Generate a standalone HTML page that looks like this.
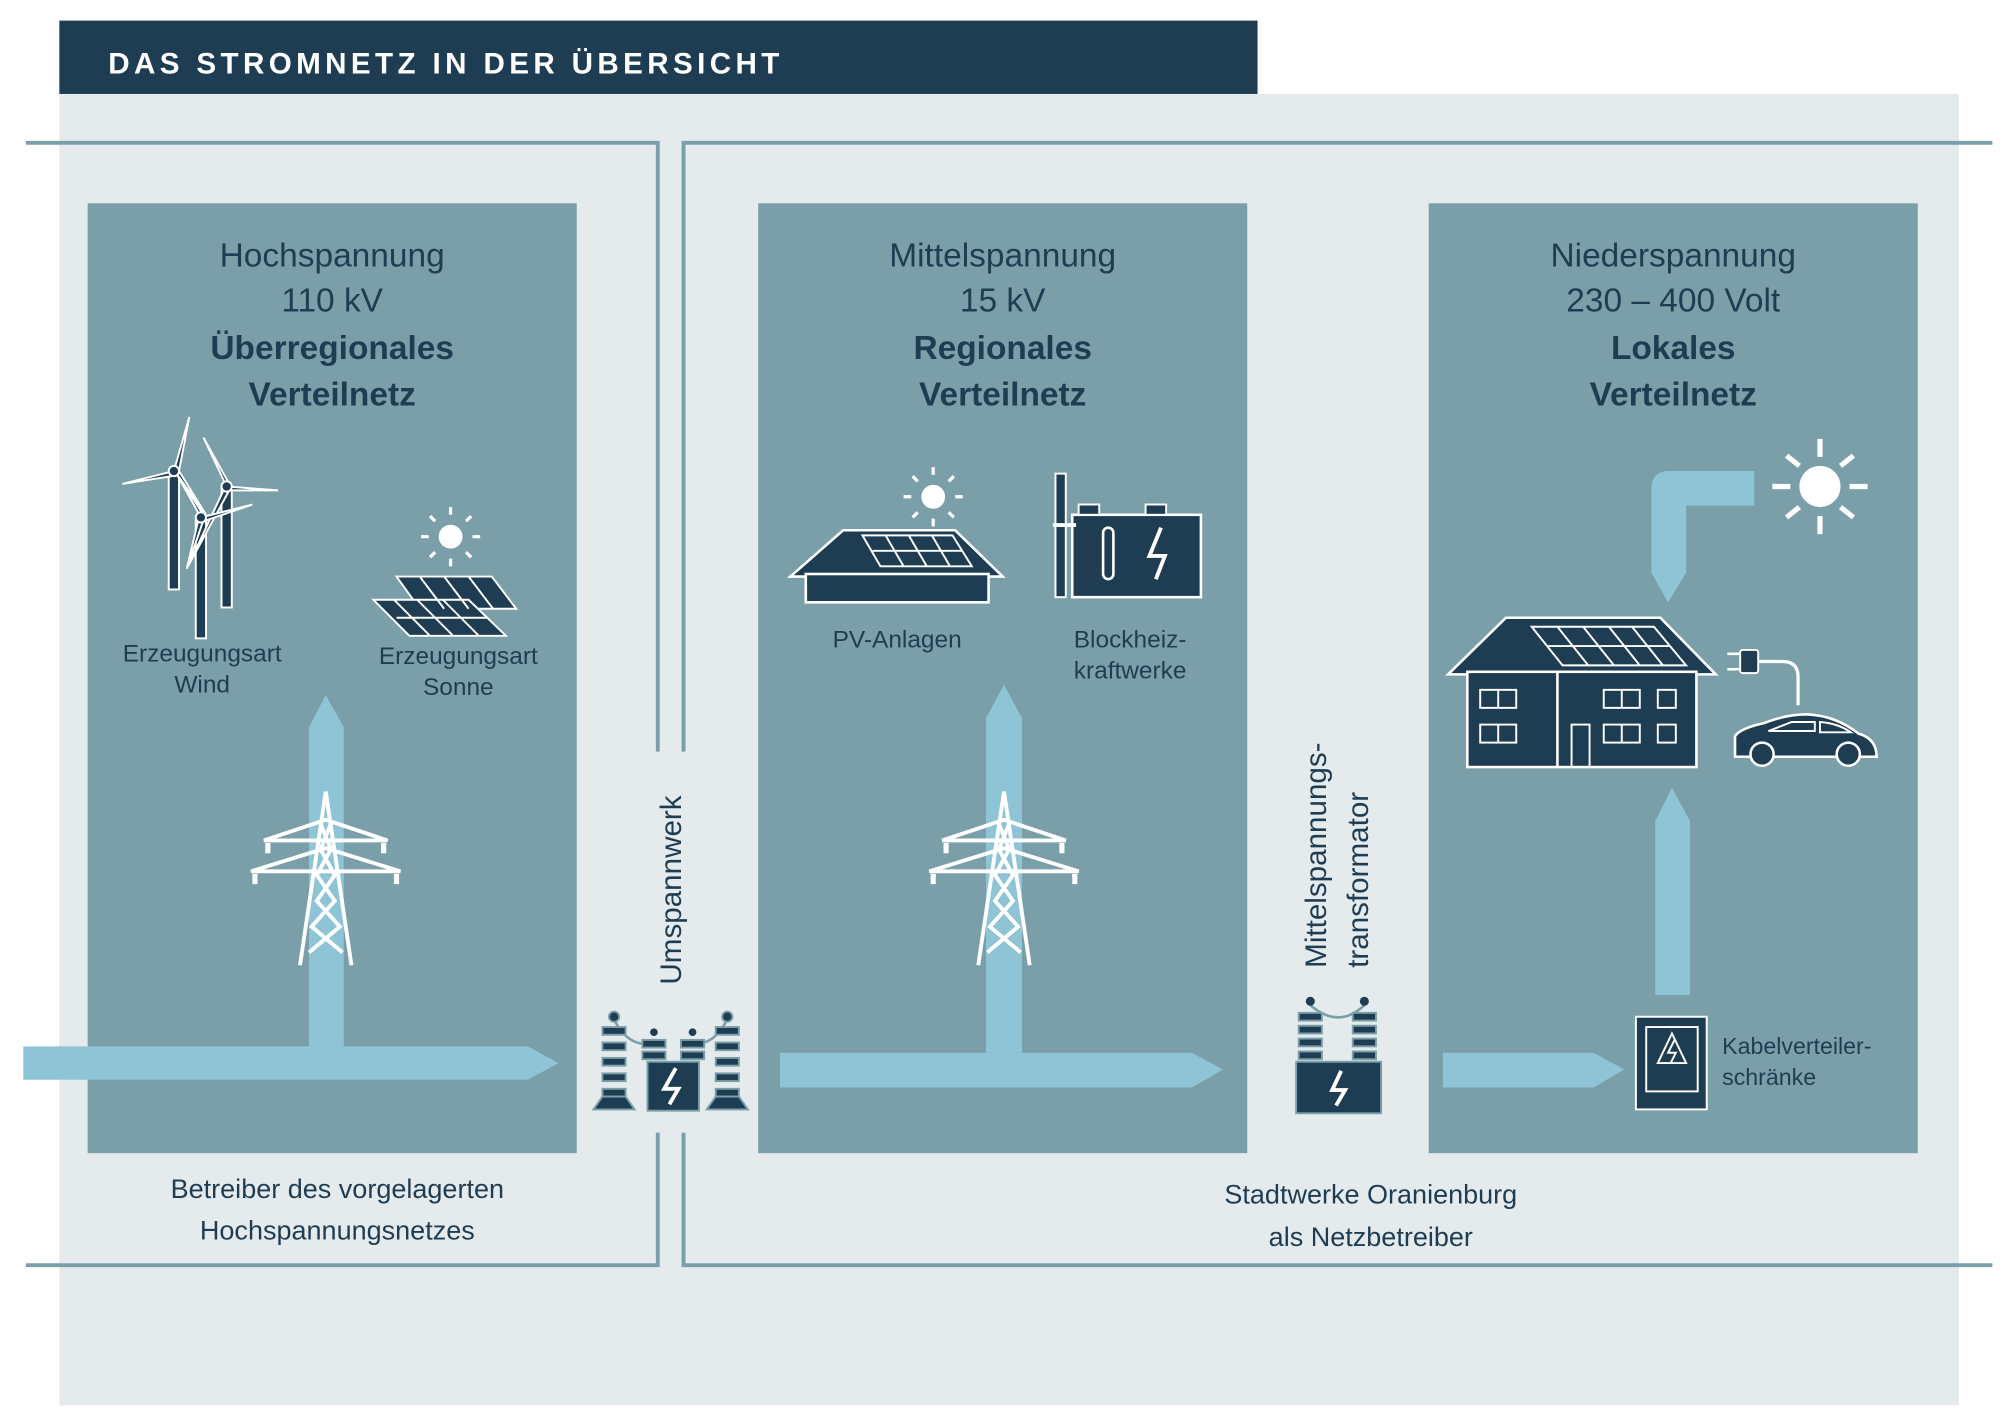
<!DOCTYPE html>
<html><head><meta charset="utf-8"><style>
html,body{margin:0;padding:0;background:#fff;}
svg{display:block;}
text{font-family:"Liberation Sans",sans-serif;fill:#1f3d52;}
</style></head><body>
<svg width="2008" height="1417" viewBox="0 0 1560 1101" xmlns="http://www.w3.org/2000/svg">
<defs>
<g id="tower" stroke="#fff" stroke-width="3" fill="none">
  <path d="M0,0 L-20,135 M0,0 L20,135"/>
  <path d="M-4,25 L4,45 L-7,65 L7,85 L-11,105 L13,125 M4,25 L-4,45 L7,65 L-7,85 L11,105 L-13,125"/>
  <path d="M-48,38 L48,38 L0,22 Z M-58,62 L58,62 L0,44 Z"/>
  <path d="M-45,40v8 M45,40v8 M-55,64v8 M55,64v8" stroke-width="4"/>
</g>
<g id="ins">
  <rect x="-9" y="0" width="18" height="6" fill="#1f3d52" stroke="#7a9fa9" stroke-width="1.5"/>
</g>
</defs>
<rect width="1560" height="1101" fill="#fff"/>
<rect x="46" y="73" width="1476" height="1019" fill="#e5eaed"/>
<rect x="46" y="16" width="931" height="57" fill="#1f3d52"/>
<text x="84" y="57" font-size="23" font-weight="bold" style="fill:#fff" letter-spacing="3.4">DAS STROMNETZ IN DER ÜBERSICHT</text>

<g stroke="#7a9fab" stroke-width="3" fill="none">
  <path d="M20,111 H511 V584 M511,880 V983 H20"/>
  <path d="M1548,111 H531 V584 M531,880 V983 H1548"/>
</g>

<rect x="68" y="158" width="380" height="738" fill="#7a9fa9"/>
<rect x="589" y="158" width="380" height="738" fill="#7a9fa9"/>
<rect x="1110" y="158" width="380" height="738" fill="#7a9fa9"/>

<g font-size="26" text-anchor="middle">
  <text x="258" y="207">Hochspannung</text>
  <text x="258" y="242">110 kV</text>
  <text x="258" y="279" font-weight="bold">Überregionales</text>
  <text x="258" y="315" font-weight="bold">Verteilnetz</text>
  <text x="779" y="207">Mittelspannung</text>
  <text x="779" y="242">15 kV</text>
  <text x="779" y="279" font-weight="bold">Regionales</text>
  <text x="779" y="315" font-weight="bold">Verteilnetz</text>
  <text x="1300" y="207">Niederspannung</text>
  <text x="1300" y="242">230 – 400 Volt</text>
  <text x="1300" y="279" font-weight="bold">Lokales</text>
  <text x="1300" y="315" font-weight="bold">Verteilnetz</text>
</g>

<g fill="#8ec4d6">
  <path d="M18,813 H410 L434,826 L410,839 H18 Z"/>
  <path d="M240,813 V565 L253,540 L267,565 V813 Z"/>
  <path d="M606,818 H926 L950,831 L926,845 H606 Z"/>
  <path d="M766,818 V558 L780,532 L794,558 V818 Z"/>
  <path d="M1121,818 H1238 L1262,831 L1238,845 H1121 Z"/>
  <path d="M1286,773 V638 L1299,612 L1313,638 V773 Z"/>
  <path d="M1363,366 V393 H1310 V445 L1296,468 L1283,445 V380 Q1283,366 1297,366 Z"/>
</g>

<use href="#tower" x="253" y="615"/>
<use href="#tower" x="780" y="615"/>

<g stroke="#fff" stroke-width="1.5" fill="#1f3d52">
  <rect x="131" y="368" width="8" height="90"/>
  <rect x="172" y="380" width="8" height="92"/>
  <rect x="152" y="404" width="8" height="92"/>
  <path d="M135,366 L147,324 L139,366 Z M135,366 L95,376 L133,370 Z M137,368 L160,400 L139,366 Z"/>
  <path d="M176,378 L158,340 L178,376 Z M176,378 L216,381 L178,381 Z M174,380 L146,440 L178,381 Z"/>
  <path d="M156,402 L137,368 L158,400 Z M156,402 L196,392 L158,405 Z M154,404 L145,442 L158,404 Z"/>
  <circle cx="135" cy="366" r="4"/><circle cx="176" cy="378" r="4"/><circle cx="156" cy="402" r="4"/>
</g>

<g stroke="#fff" stroke-width="2.5" fill="#fff">
  <circle cx="350" cy="417" r="8"/>
  <path d="M350,400v-6 M350,434v6 M333,417h-6 M367,417h6 M338,405l-4,-4 M362,405l4,-4 M338,429l-4,4 M362,429l4,4" fill="none"/>
  <circle cx="725" cy="386" r="8"/>
  <path d="M725,369v-6 M725,403v6 M708,386h-6 M742,386h6 M713,374l-4,-4 M737,374l4,-4 M713,398l-4,4 M737,398l4,4" fill="none"/>
</g>
<g fill="#1f3d52" stroke="#fff" stroke-width="1.5">
  <path d="M308,448 H382 L401,473 H326 Z"/>
  <path d="M290,466 H364 L393,494 H318 Z"/>
  <path d="M308,480 H378 M326,448 L345,473 M345,448 L364,473 M364,448 L383,473 M306,466 L334,494 M324,466 L352,494 M344,466 L372,494" fill="none"/>
</g>

<g>
  <path d="M614,448 L655,412 H742 L779,448 Z" fill="#1f3d52" stroke="#fff" stroke-width="2"/>
  <rect x="626" y="446" width="142" height="22" fill="#1f3d52" stroke="#fff" stroke-width="2"/>
  <path d="M670,416 H740 L755,440 H684 Z M678,428 H748 M688,416 L702,440 M706,416 L720,440 M724,416 L738,440" fill="none" stroke="#fff" stroke-width="1.5"/>
</g>
<g>
  <rect x="833" y="400" width="100" height="64" fill="#1f3d52" stroke="#fff" stroke-width="2"/>
  <rect x="838" y="392" width="16" height="8" fill="#1f3d52" stroke="#fff" stroke-width="1.5"/>
  <rect x="890" y="392" width="16" height="8" fill="#1f3d52" stroke="#fff" stroke-width="1.5"/>
  <rect x="820" y="368" width="8" height="96" fill="#1f3d52" stroke="#fff" stroke-width="1.5"/>
  <path d="M818,408 H836" stroke="#fff" stroke-width="3"/>
  <rect x="857" y="410" width="8" height="40" rx="4" fill="none" stroke="#fff" stroke-width="2"/>
  <path d="M902,410 L893,432 H905 L898,450" fill="none" stroke="#fff" stroke-width="3"/>
</g>

<g font-size="19" text-anchor="middle">
  <text x="157" y="514">Erzeugungsart</text><text x="157" y="538">Wind</text>
  <text x="356" y="516">Erzeugungsart</text><text x="356" y="540">Sonne</text>
  <text x="697" y="503">PV-Anlagen</text>
  <text x="878" y="503">Blockheiz-</text><text x="878" y="527">kraftwerke</text>
</g>
<g font-size="18"><text x="1338" y="819">Kabelverteiler-</text><text x="1338" y="843">schränke</text></g>

<text font-size="23" transform="translate(529,765) rotate(-90)">Umspannwerk</text>
<text font-size="23" transform="translate(1030,752) rotate(-90)">Mittelspannungs-</text>
<text font-size="23" transform="translate(1063,752) rotate(-90)">transformator</text>

<g>
  <path d="M477,792 Q487,812 503,811 M565,792 Q555,812 539,811" fill="none" stroke="#7a9fa9" stroke-width="2"/>
  <circle cx="477" cy="790" r="4" fill="#1f3d52" stroke="#7a9fa9" stroke-width="1.5"/>
  <circle cx="565" cy="790" r="4" fill="#1f3d52" stroke="#7a9fa9" stroke-width="1.5"/>
  <circle cx="508" cy="802" r="3" fill="#1f3d52"/><circle cx="538" cy="802" r="3" fill="#1f3d52"/>
  <use href="#ins" x="477" y="798"/><use href="#ins" x="477" y="810"/><use href="#ins" x="477" y="822"/><use href="#ins" x="477" y="834"/><use href="#ins" x="477" y="846"/>
  <use href="#ins" x="565" y="798"/><use href="#ins" x="565" y="810"/><use href="#ins" x="565" y="822"/><use href="#ins" x="565" y="834"/><use href="#ins" x="565" y="846"/>
  <use href="#ins" x="508" y="808"/><use href="#ins" x="508" y="817"/><use href="#ins" x="538" y="808"/><use href="#ins" x="538" y="817"/>
  <path d="M468,852 H486 L493,862 H461 Z M556,852 H574 L581,862 H549 Z" fill="#1f3d52" stroke="#7a9fa9" stroke-width="1.5"/>
  <rect x="503" y="825" width="40" height="38" fill="#1f3d52" stroke="#7a9fa9" stroke-width="1.5"/>
  <path d="M525,830 L516,846 H527 L520,858" fill="none" stroke="#fff" stroke-width="3"/>
</g>
<g>
  <path d="M1018,781 Q1040,800 1060,781" fill="none" stroke="#7a9fa9" stroke-width="2"/>
  <circle cx="1018" cy="778" r="3.5" fill="#1f3d52"/><circle cx="1060" cy="778" r="3.5" fill="#1f3d52"/>
  <use href="#ins" x="1018" y="787"/><use href="#ins" x="1018" y="797"/><use href="#ins" x="1018" y="807"/><use href="#ins" x="1018" y="817"/>
  <use href="#ins" x="1060" y="787"/><use href="#ins" x="1060" y="797"/><use href="#ins" x="1060" y="807"/><use href="#ins" x="1060" y="817"/>
  <rect x="1007" y="825" width="66" height="40" fill="#1f3d52" stroke="#7a9fa9" stroke-width="1.5"/>
  <path d="M1042,832 L1035,847 H1045 L1038,859" fill="none" stroke="#fff" stroke-width="3"/>
</g>

<g stroke="#fff" stroke-width="4" fill="#fff">
  <circle cx="1414" cy="378" r="14"/>
  <path d="M1414,355v-14 M1414,401v14 M1391,378h-14 M1437,378h14 M1398,362l-10,-8 M1430,362l10,-8 M1398,394l-10,8 M1430,394l10,8" fill="none"/>
</g>
<g>
  <path d="M1125,524 L1170,480 H1290 L1333,524 Z" fill="#1f3d52" stroke="#fff" stroke-width="2"/>
  <rect x="1140" y="522" width="178" height="74" fill="#1f3d52" stroke="#fff" stroke-width="2"/>
  <path d="M1210,522 V596" stroke="#fff" stroke-width="2"/>
  <path d="M1190,487 H1285 L1310,517 H1214 Z M1202,502 H1297 M1210,487 L1234,517 M1230,487 L1254,517 M1250,487 L1274,517 M1268,487 L1292,517" fill="none" stroke="#fff" stroke-width="1.5"/>
  <g fill="none" stroke="#fff" stroke-width="1.5">
    <rect x="1150" y="536" width="28" height="14"/><path d="M1164,536v14"/>
    <rect x="1150" y="563" width="28" height="14"/><path d="M1164,563v14"/>
    <rect x="1221" y="563" width="14" height="33"/>
    <rect x="1246" y="536" width="28" height="14"/><path d="M1260,536v14"/>
    <rect x="1246" y="563" width="28" height="14"/><path d="M1260,563v14"/>
    <rect x="1288" y="536" width="14" height="14"/><rect x="1288" y="563" width="14" height="14"/>
  </g>
</g>
<g>
  <path d="M1365,514 H1385 Q1397,514 1397,526 V548" fill="none" stroke="#fff" stroke-width="2.5"/>
  <rect x="1352" y="505" width="14" height="18" rx="2" fill="#1f3d52" stroke="#fff" stroke-width="1.5"/>
  <path d="M1342,508h10 M1342,520h10" stroke="#fff" stroke-width="2"/>
  <path d="M1348,588 V572 Q1352,566 1370,562 Q1388,555 1404,555 Q1426,556 1444,570 Q1458,574 1458,588 Z" fill="#1f3d52" stroke="#fff" stroke-width="2"/>
  <path d="M1374,568 L1392,561 H1410 L1410,568 Z M1414,561 Q1428,562 1438,569 H1414 Z" fill="none" stroke="#fff" stroke-width="1.5"/>
  <circle cx="1369" cy="586" r="9" fill="#1f3d52" stroke="#fff" stroke-width="2"/>
  <circle cx="1436" cy="586" r="9" fill="#1f3d52" stroke="#fff" stroke-width="2"/>
</g>
<g>
  <rect x="1271" y="790" width="55" height="72" fill="#1f3d52" stroke="#fff" stroke-width="1.5"/>
  <rect x="1279" y="798" width="40" height="50" fill="none" stroke="#fff" stroke-width="1.5"/>
  <path d="M1299,803 L1288,826 H1310 Z" fill="none" stroke="#fff" stroke-width="1.5"/>
  <path d="M1301,808 L1296,818 H1302 L1298,826" fill="none" stroke="#fff" stroke-width="1.5"/>
</g>

<g font-size="21" text-anchor="middle">
  <text x="262" y="931">Betreiber des vorgelagerten</text>
  <text x="262" y="963">Hochspannungsnetzes</text>
  <text x="1065" y="935">Stadtwerke Oranienburg</text>
  <text x="1065" y="968">als Netzbetreiber</text>
</g>
</svg>
</body></html>
